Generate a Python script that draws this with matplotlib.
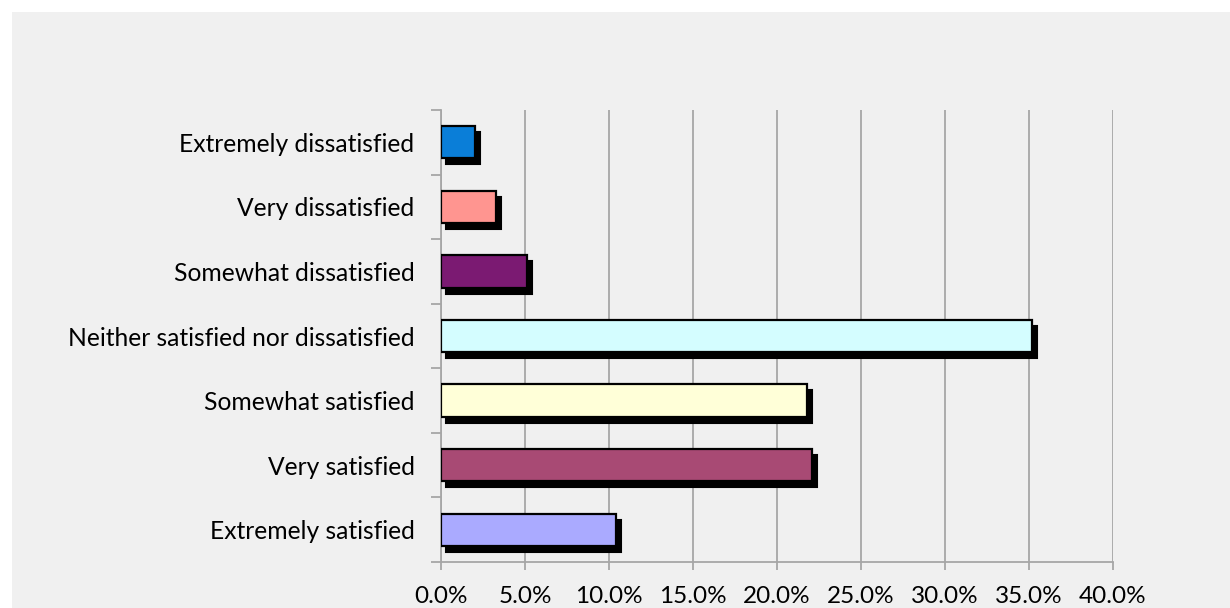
import matplotlib
matplotlib.use("Agg")
import matplotlib.pyplot as plt
from matplotlib.patches import Rectangle
from matplotlib.transforms import ScaledTranslation
from matplotlib.ticker import FixedLocator, PercentFormatter

categories = ["Extremely satisfied", "Very satisfied", "Somewhat satisfied",
              "Neither satisfied nor dissatisfied", "Somewhat dissatisfied",
              "Very dissatisfied", "Extremely dissatisfied"]
values = [10.4, 22.1, 21.8, 35.2, 5.1, 3.3, 2.0]
colors = ["#aaaaff", "#a84a74", "#ffffd8", "#d4fdff", "#7b1a72", "#ff9590", "#0a7ed8"]
xticks = [0, 5, 10, 15, 20, 25, 30, 35, 40]

plt.rcParams['font.family'] = ['Lato', 'DejaVu Sans']

fig = plt.figure(figsize=(12.3, 6.08), dpi=100)
fig.patch.set_facecolor("white")
bg = Rectangle((12/1230, 0), 1, 1 - 12/608, transform=fig.transFigure,
               facecolor="#f0f0f0", edgecolor="none", zorder=-10)
fig.add_artist(bg)

ax = fig.add_axes([441/1230, 1 - 562/608, (1113-441)/1230, (562-110)/608])
ax.set_facecolor("none")
ax.set_zorder(5)

y = list(range(len(categories)))
shadow_tr = ax.transData + ScaledTranslation(5/100, -6/100, fig.dpi_scale_trans)
ax.barh(y, values, height=0.5, color="black", edgecolor="black", linewidth=1.5,
        transform=shadow_tr, zorder=2)
ax.barh(y, values, height=0.5, color=colors, edgecolor="black", linewidth=1.6, zorder=3)

ax.set_xlim(0, 40)
ax.set_ylim(-0.5, len(categories) - 0.5)
ax.set_xticks(xticks)
ax.xaxis.set_major_formatter(PercentFormatter(decimals=1))
ax.set_yticks(y)
ax.set_yticklabels(categories)
ax.yaxis.set_minor_locator(FixedLocator([i - 0.5 for i in range(len(categories) + 1)]))

ax.grid(axis="x", color="#a6a6a6", linewidth=1.3, zorder=1)
ax.set_axisbelow(True)
for s in ["top", "right"]:
    ax.spines[s].set_visible(False)
for s in ["left", "bottom"]:
    ax.spines[s].set_color("#a6a6a6")
    ax.spines[s].set_linewidth(1.3)

ax.tick_params(axis="y", which="major", length=0, pad=19, labelsize=17.7, labelcolor="black")
ax.tick_params(axis="y", which="minor", length=7, width=1.3, color="#a6a6a6", direction="out")
ax.tick_params(axis="x", which="major", length=6, width=1.3, color="#a6a6a6",
               direction="out", pad=11, labelsize=17.5, labelcolor="black")

fig.savefig("out.png", dpi=100)
